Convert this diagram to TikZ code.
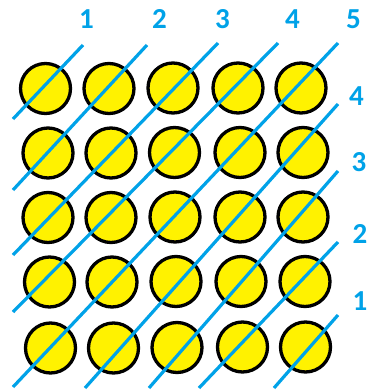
\documentclass[tikz,border=0pt]{standalone}
\usepackage{fontspec}
\newfontfamily\labfont{Carlito}[UprightFont={* Bold},BoldFont={* Bold}]
\definecolor{lineblue}{RGB}{0,162,232}
\definecolor{ballyellow}{RGB}{255,242,0}
\begin{document}
\begin{tikzpicture}[x=1pt,y=-1pt,
  ball/.style={circle,draw=black,fill=ballyellow,line width=3.3pt,minimum size=50pt,inner sep=0pt},
  diag/.style={draw=lineblue,line width=3.2pt},
  lab/.style={text=lineblue,font=\labfont\fontsize{29}{31}\selectfont,inner sep=0pt,anchor=center}]
\useasboundingbox[fill=white] (0,0) rectangle (370,391);
% balls
\node[ball] (c11) at (45.5,88.5) {};
\node[ball] (c12) at (109,88.5) {};
\node[ball] (c13) at (173,88) {};
\node[ball] (c14) at (238,88) {};
\node[ball] (c15) at (301,88) {};
\node[ball] (c21) at (48,153) {};
\node[ball] (c22) at (111,153) {};
\node[ball] (c23) at (174.5,152.5) {};
\node[ball] (c24) at (240,152.5) {};
\node[ball] (c25) at (303,152.5) {};
\node[ball] (c31) at (48,217.5) {};
\node[ball] (c32) at (111,217.5) {};
\node[ball] (c33) at (175,217) {};
\node[ball] (c34) at (240,217) {};
\node[ball] (c35) at (303,217) {};
\node[ball] (c41) at (49.5,282) {};
\node[ball] (c42) at (112,282) {};
\node[ball] (c43) at (176,281.5) {};
\node[ball] (c44) at (241,281.5) {};
\node[ball] (c45) at (305,281.5) {};
\node[ball] (c51) at (50.5,348) {};
\node[ball] (c52) at (113.5,348) {};
\node[ball] (c53) at (177,347.5) {};
\node[ball] (c54) at (242.5,347) {};
\node[ball] (c55) at (305.5,347) {};
% line end points
\coordinate (a1) at (83,45);   \coordinate (a2) at (13,119);
\coordinate (b1) at (147,45);  \coordinate (b2) at (13,190);
\coordinate (d1) at (218,43);  \coordinate (d2) at (13,255);
\coordinate (e1) at (278,43);  \coordinate (e2) at (13,312);
\coordinate (f1) at (338,43);  \coordinate (f2) at (13,387);
\coordinate (g1) at (338,104); \coordinate (g2) at (85,388);
\coordinate (h1) at (338,171); \coordinate (h2) at (149,388);
\coordinate (i1) at (338,242); \coordinate (i2) at (199,388);
\coordinate (j1) at (338,315); \coordinate (j2) at (274,388);
% diagonal lines
\draw[diag] (a1) -- (a2);
\draw[diag] (b1) -- (b2);
\draw[diag] (d1) -- (d2);
\draw[diag] (e1) -- (e2);
\draw[diag] (f1) -- (f2);
\draw[diag] (g1) -- (g2);
\draw[diag] (h1) -- (h2);
\draw[diag] (i1) -- (i2);
\draw[diag] (j1) -- (j2);
% labels
\node[lab] (t1) at (86.5,19) {1};
\node[lab] (t2) at (159.5,19) {2};
\node[lab] (t3) at (222.5,19) {3};
\node[lab] (t4) at (292.5,19) {4};
\node[lab] (t5) at (353.5,19) {5};
\node[lab] (r4) at (356.5,96) {4};
\node[lab] (r3) at (359,162) {3};
\node[lab] (r2) at (360,234) {2};
\node[lab] (r1) at (360,301) {1};
\end{tikzpicture}
\end{document}
